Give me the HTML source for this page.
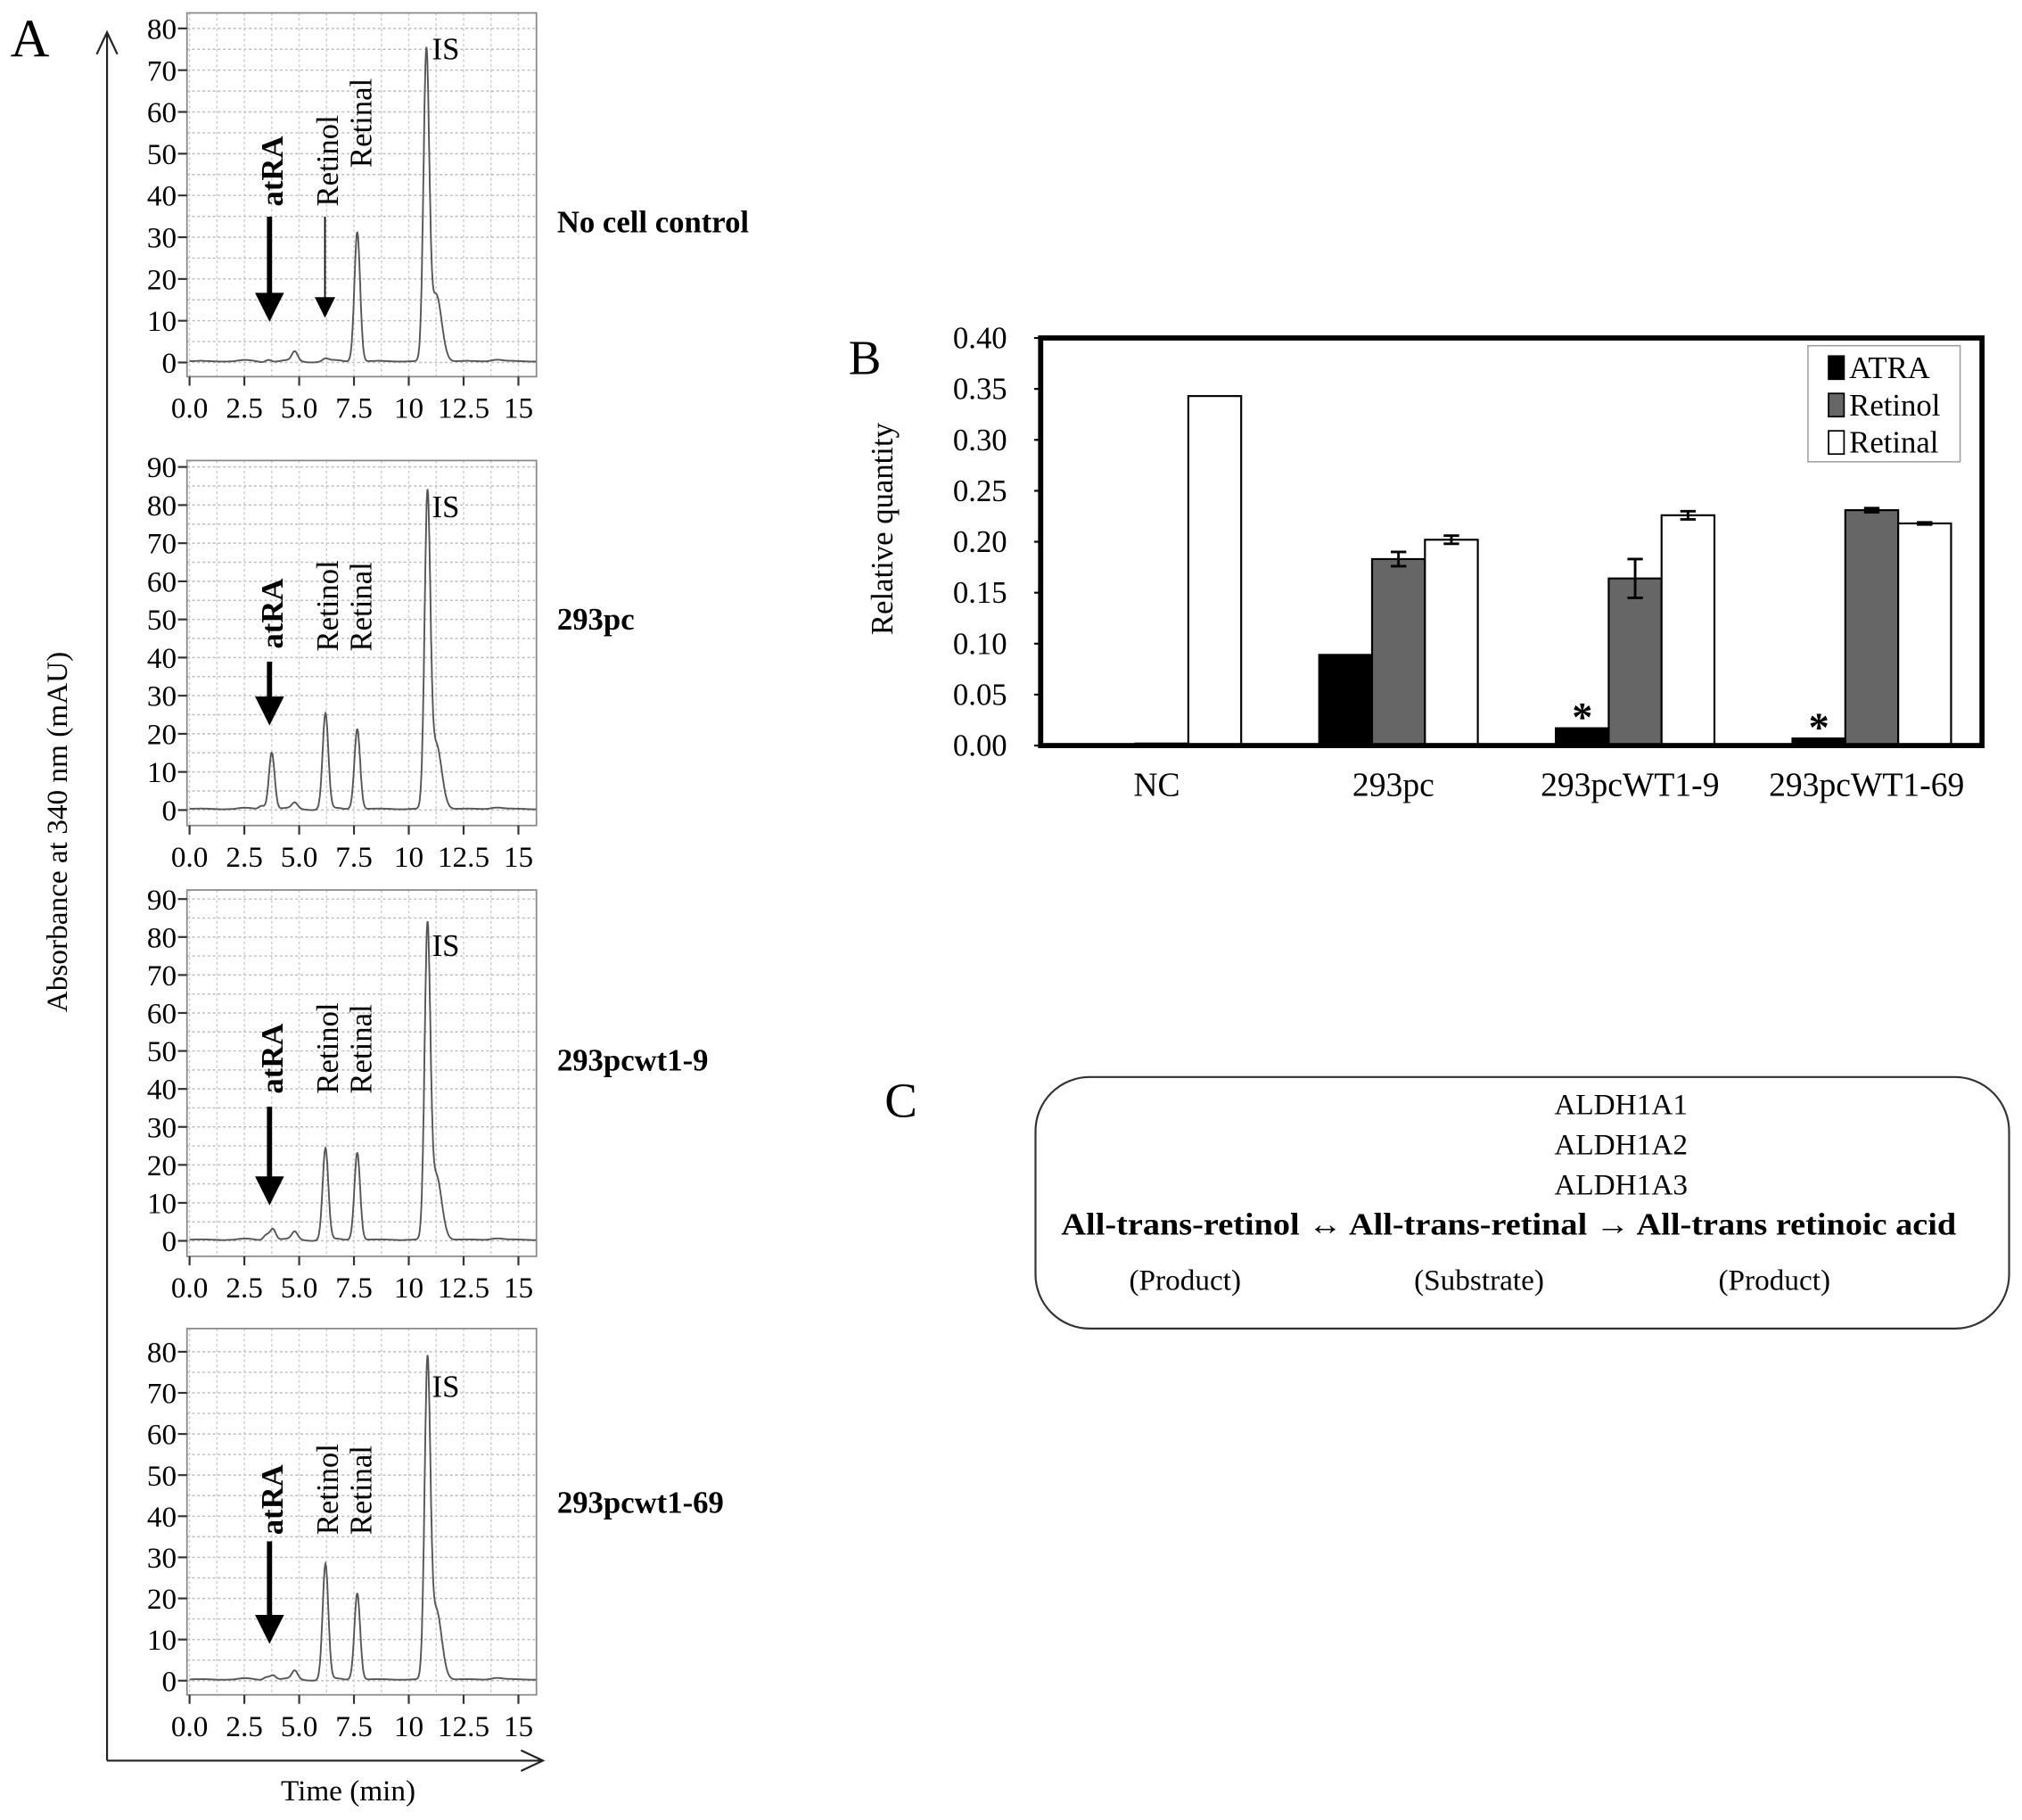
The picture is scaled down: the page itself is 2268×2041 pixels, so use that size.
<!DOCTYPE html>
<html><head><meta charset="utf-8"><style>
html,body{margin:0;padding:0;background:#fff}
svg{display:block;font-family:"Liberation Serif",serif}
</style></head><body>
<svg id="fig" width="2268" height="2041" viewBox="0 0 1568 1411" xmlns="http://www.w3.org/2000/svg">
<rect width="1568" height="1411" fill="#fff"/>
<g id="panelA"></g>
<g id="panelB"></g>
<g id="panelC">
<text x="686" y="866" font-size="38">C</text>
<rect x="803" y="835" width="755" height="195" rx="42" fill="none" stroke="#333" stroke-width="1.5"/>
<text x="1257" y="864" font-size="23" text-anchor="middle">ALDH1A1</text>
<text x="1257" y="895" font-size="23" text-anchor="middle">ALDH1A2</text>
<text x="1257" y="926" font-size="23" text-anchor="middle">ALDH1A3</text>
<text x="823" y="957" font-size="24" font-weight="bold" textLength="694" lengthAdjust="spacingAndGlyphs">All-trans-retinol ↔ All-trans-retinal → All-trans retinoic acid</text>
<text x="919" y="1000" font-size="23" text-anchor="middle">(Product)</text>
<text x="1147" y="1000" font-size="23" text-anchor="middle">(Substrate)</text>
<text x="1376" y="1000" font-size="23" text-anchor="middle">(Product)</text>
</g>
</svg>
<script>
// ---- Panel A chromatogram data (peak centres in min, heights in mAU) ----
const chromNames = ["No cell control","293pc","293pcwt1-9","293pcwt1-69"];
const chromYMax = [80,90,90,80];
const peakTimes1 = [3.6,4.8,6.2,7.65,10.8,11.25,14.0];
const peakHeights1 = [0.6,2.2,0.6,31,72,16,0.4];
const peakTimes2 = [3.3,3.75,4.8,6.2,7.65,10.85,11.25,14.0];
const peakHeights2 = [1,15,1.5,25,21,79,17,0.4];
const peakTimes3 = [3.5,3.8,4.8,6.2,7.65,10.85,11.25,14.0];
const peakHeights3 = [1.5,3,2,24,23,79,17,0.4];
const peakTimes4 = [3.5,3.8,4.8,6.2,7.65,10.85,11.25,14.0];
const peakHeights4 = [0.8,1.2,2,28,21,74,17,0.4];
const peakWidths = {default:0.13, shoulder:0.25};
const xTickLabels = ["0.0","2.5","5.0","7.5","10","12.5","15"];
const xTickValues = [0,2.5,5,7.5,10,12.5,15];

// ---- Panel B bar data ----
const barCategories = ["NC","293pc","293pcWT1-9","293pcWT1-69"];
const atraValues = [0.000,0.089,0.017,0.007];
const retinolValues = [0.002,0.183,0.164,0.231];
const retinolErrors = [0,0.007,0.019,0.002];
const retinalValues = [0.343,0.202,0.226,0.218];
const retinalErrors = [0,0.004,0.004,0.001];
const bYTicks = ["0.00","0.05","0.10","0.15","0.20","0.25","0.30","0.35","0.40"];
const starFlags = [false,false,true,true];

const NS="http://www.w3.org/2000/svg";
function mk(tag,attrs,parent,text){const e=document.createElementNS(NS,tag);for(const k in attrs)e.setAttribute(k,attrs[k]);if(text!==undefined)e.textContent=text;parent.appendChild(e);return e;}

const A=document.getElementById('panelA');
let t=mk('text',{x:8,y:44,'font-size':42},A,'A');


let g=mk('path',{d:'M83,1365 L83,25 M75,42 L83,25 L91,42 M83,1365 L420,1365 M404,1357 L421,1365 L404,1373',fill:'none',stroke:'#222','stroke-width':1.5},A);


t=mk('text',{x:0,y:0,'font-size':23,'text-anchor':'middle',transform:'translate(52,645) rotate(-90)'},A,'Absorbance at 340 nm (mAU)');


t=mk('text',{x:270,y:1396,'font-size':23,'text-anchor':'middle'},A,'Time (min)');



const chartLayouts=[
 {top:10,yTop:22,y0:281,bottom:292,lab:316,name:172,ann:{atra:[160,168,245],retinol:[160,168,245],retinal:130,is:38}},
 {top:357,yTop:362,y0:628,bottom:640,lab:664,name:480,ann:{atra:[503,513,558],retinol:[505,null,null],retinal:505,is:393}},
 {top:690,yTop:697,y0:962,bottom:974,lab:998,name:822,ann:{atra:[848,858,930],retinol:[848,null,null],retinal:848,is:733}},
 {top:1030,yTop:1048,y0:1303,bottom:1314,lab:1338,name:1165,ann:{atra:[1190,1195,1270],retinol:[1190,null,null],retinal:1190,is:1075}}
];
const allTimes=[peakTimes1,peakTimes2,peakTimes3,peakTimes4];
const allHeights=[peakHeights1,peakHeights2,peakHeights3,peakHeights4];
const xL=145,xR=416;
function xS(m){return 147+m*(402-147)/15;}

chartLayouts.forEach((L,ci)=>{
 const cg=mk('g',{},A);
 
 
 const ymax=chromYMax[ci];
 const yS=v=>L.y0-(v/ymax)*(L.y0-L.yTop);
 for(let v=0;v<=ymax;v+=5){mk('line',{x1:xL,x2:xR,y1:yS(v),y2:yS(v),stroke:'#bbb','stroke-dasharray':'2,2','stroke-width':1},cg);}
 for(let m=0;m<=15.5;m+=1.25){mk('line',{x1:xS(m),x2:xS(m),y1:L.top,y2:L.bottom,stroke:'#ccc','stroke-dasharray':'2,2','stroke-width':1},cg);}
 const fr=mk('rect',{x:xL,y:L.top,width:xR-xL,height:L.bottom-L.top,fill:'none',stroke:'#888','stroke-width':1.2},cg);
 
 
 for(let v=0;v<=ymax;v+=10){
  mk('line',{x1:xL-7,x2:xL,y1:yS(v),y2:yS(v),stroke:'#333','stroke-width':1.5},cg);
  const tl=mk('text',{x:xL-8,y:yS(v)+8,'font-size':23,'text-anchor':'end'},cg,String(v));
  
  
 }
 xTickValues.forEach((m,i)=>{
  mk('line',{x1:xS(m),x2:xS(m),y1:L.bottom,y2:L.bottom+7,stroke:'#333','stroke-width':1.5},cg);
  const tl=mk('text',{x:xS(m),y:L.lab+8,'font-size':23,'text-anchor':'middle'},cg,xTickLabels[i]);
  
  
 });
 const times=allTimes[ci],hs=allHeights[ci];
 let d='';
 for(let m=0;m<=15.8;m+=0.02){
  let v=0.3+0.3*Math.sin(m*3.1)*(m>2&&m<7?1:0.3);
  times.forEach((c,k)=>{const w=(k>0&&times[k-1]>10.5&&c>11)?peakWidths.shoulder:peakWidths.default;v+=hs[k]*Math.exp(-0.5*Math.pow((m-c)/w,2));});
  d+=(d?'L':'M')+xS(m).toFixed(1)+','+yS(v).toFixed(1);
 }
 const p=mk('path',{d:d,fill:'none',stroke:'#555','stroke-width':1.3},cg);
 
 
 const an=L.ann;
 let a=mk('text',{'font-size':24,'font-weight':'bold',transform:`translate(219,${an.atra[0]}) rotate(-90)`},cg,'atRA');
 
 
 a=mk('path',{d:`M209,${an.atra[1]} L209,${an.atra[2]-14} M201,${an.atra[2]-16} L209,${an.atra[2]} L217,${an.atra[2]-16}Z`,stroke:'#000','stroke-width':4,fill:'#000'},cg);
 
 
 a=mk('text',{'font-size':24,transform:`translate(262,${an.retinol[0]}) rotate(-90)`},cg,'Retinol');
 
 
 if(an.retinol[1]){
  a=mk('path',{d:`M252,${an.retinol[1]} L252,${an.retinol[2]-12} M245,${an.retinol[2]-14} L252,${an.retinol[2]} L259,${an.retinol[2]-14}Z`,stroke:'#000','stroke-width':1.2,fill:'#000'},cg);
  
  
 }
 a=mk('text',{'font-size':24,transform:`translate(288,${an.retinal}) rotate(-90)`},cg,'Retinal');
 
 
 a=mk('text',{x:335,y:an.is+8,'font-size':24},cg,'IS');
 
 
 a=mk('text',{x:432,y:L.name+8,'font-size':24,'font-weight':'bold'},cg,chromNames[ci]);
 
 
});

// ---- Panel B ----
const B=document.getElementById('panelB');
t=mk('text',{x:658,y:290,'font-size':38},B,'B');


const bx0=807,bx1=1537,by0=578,byTop=262;
const bY=v=>by0-(v/0.40)*(by0-byTop);
const groupCenter=i=>901+i*183.5;
const barW=41;
bYTicks.forEach(s=>{
 const v=parseFloat(s);
 mk('line',{x1:bx0-5,x2:bx0,y1:bY(v),y2:bY(v),stroke:'#000','stroke-width':1.5},B);
 const tl=mk('text',{x:bx0-26,y:bY(v)+8,'font-size':24,'text-anchor':'end'},B,s);
 
 
});
t=mk('text',{'font-size':24,'text-anchor':'middle',transform:'translate(692,410) rotate(-90)'},B,'Relative quantity');


const series=[{v:atraValues,e:null,fill:'#000',n:'atra'},{v:retinolValues,e:retinolErrors,fill:'#666',n:'retinol'},{v:retinalValues,e:retinalErrors,fill:'#fff',n:'retinal'}];
barCategories.forEach((c,i)=>{
 series.forEach((s,k)=>{
  const x=groupCenter(i)+(k-1)*barW-barW/2;
  const r=mk('rect',{x:x,y:bY(s.v[i]),width:barW,height:by0-bY(s.v[i]),fill:s.fill,stroke:'#000','stroke-width':1.5},B);
  
  
  if(s.e&&s.e[i]>0){
   const cx=x+barW/2,y1=bY(s.v[i]+s.e[i]),y2=bY(s.v[i]-s.e[i]);
   const eb=mk('path',{d:`M${cx},${y1}L${cx},${y2}M${cx-6},${y1}L${cx+6},${y1}M${cx-6},${y2}L${cx+6},${y2}`,stroke:'#000','stroke-width':2,fill:'none'},B);
   
   
  }
 });
 if(starFlags[i]){
  const st=mk('text',{x:groupCenter(i)-barW,y:bY(atraValues[i])+2,'font-size':32,'font-weight':'bold','text-anchor':'middle'},B,'*');
  
  
 }
 const tl=mk('text',{x:groupCenter(i)-4,y:617,'font-size':26,'text-anchor':'middle'},B,c);
 
 
});
t=mk('rect',{x:bx0,y:byTop,width:bx1-bx0,height:by0-byTop,fill:'none',stroke:'#000','stroke-width':4},B);


const lg=mk('g',{},B);


mk('rect',{x:1402,y:268,width:118,height:90,fill:'#fff',stroke:'#999','stroke-width':1},lg);
[['ATRA','#000'],['Retinol','#666'],['Retinal','#fff']].forEach((e,k)=>{
 const y=285+k*29;
 mk('rect',{x:1418,y:y-9,width:12,height:18,fill:e[1],stroke:'#000','stroke-width':1.2},lg);
 const le=mk('text',{x:1434,y:y+8,'font-size':24},lg,e[0]);
 
 
});
</script>
</body></html>
